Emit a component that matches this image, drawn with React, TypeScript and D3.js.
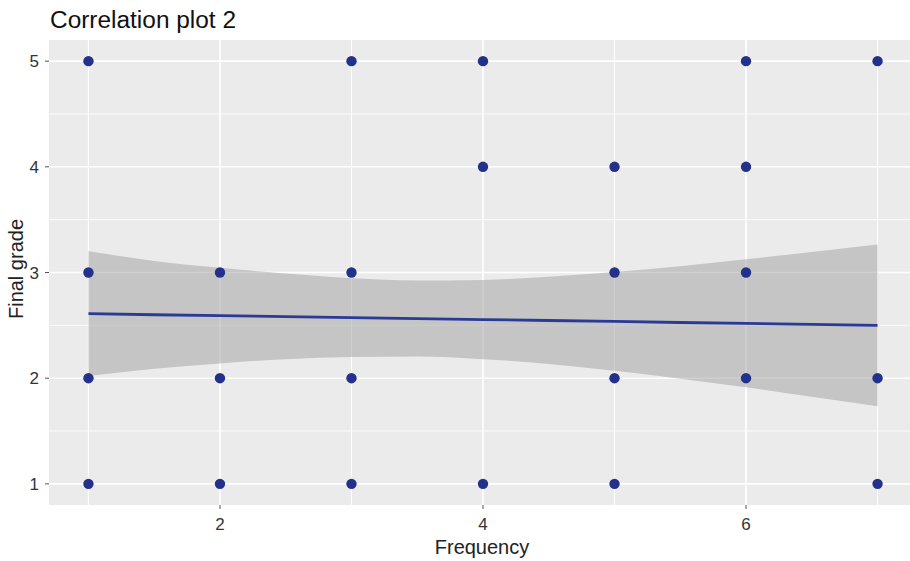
import * as d3 from 'd3';
import React from 'react';

// observed points (Frequency, Final grade)
const freq = [1, 3, 4, 6, 7, 4, 5, 6, 1, 2, 3, 5, 6, 1, 2, 3, 5, 6, 7, 1, 2, 3, 4, 5, 7];
const grade = [5, 5, 5, 5, 5, 4, 4, 4, 3, 3, 3, 3, 3, 2, 2, 2, 2, 2, 2, 1, 1, 1, 1, 1, 1];

// linear fit and its confidence band
const fitX = [1, 1.5, 2, 2.5, 3, 3.5, 4, 4.5, 5, 5.5, 6, 6.5, 7];
const fitY = [2.61, 2.6, 2.592, 2.583, 2.573, 2.564, 2.555, 2.546, 2.537, 2.527, 2.518, 2.509, 2.5];
const bandHi = [3.2, 3.11, 3.045, 2.99, 2.945, 2.925, 2.93, 2.96, 3.005, 3.06, 3.125, 3.195, 3.265];
const bandLo = [2.02, 2.09, 2.14, 2.18, 2.2, 2.205, 2.18, 2.135, 2.07, 1.995, 1.915, 1.825, 1.735];

const xTicks = [2, 4, 6];
const xMinor = [1, 3, 5, 7];
const yTicks = [1, 2, 3, 4, 5];
const yMinor = [1.5, 2.5, 3.5, 4.5];

export default function App() {
    const width = 910;
    const height = 561;
    const margin = { top: 40, right: -7, bottom: 56, left: 49 };

    // ggplot-style 5% expansion on each side
    const x = d3.scaleLinear()
        .domain([0.7, 7.3])
        .range([margin.left, width - margin.right]);
    const y = d3.scaleLinear()
        .domain([0.8, 5.2])
        .range([height - margin.bottom, margin.top]);

    const band = d3.area<number>()
        .x((d, i) => x(fitX[i]))
        .y0((d, i) => y(bandLo[i]))
        .y1((d, i) => y(bandHi[i]))
        .curve(d3.curveMonotoneX);

    const fitLine = d3.line<number>()
        .x((d, i) => x(fitX[i]))
        .y((d, i) => y(fitY[i]));

    const font = 'Liberation Sans, Arial, sans-serif';
    const panelW = x.range()[1] - x.range()[0];
    const panelH = y.range()[0] - y.range()[1];

    return (
        <svg width={width} height={height}
            style={{ position: 'absolute', left: 0, top: 0, background: 'white' }}>
            <text x={50} y={28} fontFamily={font} fontSize={23} fill="#111"
                textLength={186} lengthAdjust="spacingAndGlyphs">Correlation plot 2</text>

            <rect x={x.range()[0]} y={y.range()[1]} width={panelW} height={panelH} fill="#ebebeb" />

            {/* minor grid */}
            {yMinor.map(v => (
                <line key={'ym' + v} x1={x.range()[0]} x2={x.range()[1]} y1={y(v)} y2={y(v)}
                    stroke="white" strokeWidth={0.8} />
            ))}
            {xMinor.map(v => (
                <line key={'xm' + v} x1={x(v)} x2={x(v)} y1={y.range()[0]} y2={y.range()[1]}
                    stroke="white" strokeWidth={1.1} />
            ))}
            {/* major grid */}
            {yTicks.map(v => (
                <line key={'yg' + v} x1={x.range()[0]} x2={x.range()[1]} y1={y(v)} y2={y(v)}
                    stroke="white" strokeWidth={1.6} />
            ))}
            {xTicks.map(v => (
                <line key={'xg' + v} x1={x(v)} x2={x(v)} y1={y.range()[0]} y2={y.range()[1]}
                    stroke="white" strokeWidth={1.6} />
            ))}

            <path d={band(fitX) || ''} fill="#9a9a9a" fillOpacity={0.48} />

            {freq.map((f, i) => (
                <circle key={'p' + i} cx={x(f)} cy={y(grade[i])} r={5.2} fill="#24318a" />
            ))}

            <path d={fitLine(fitX) || ''} fill="none" stroke="#2a3a95" strokeWidth={2.8} />

            {/* axes */}
            {yTicks.map(v => (
                <g key={'yt' + v}>
                    <line x1={x.range()[0] - 4} x2={x.range()[0]} y1={y(v)} y2={y(v)} stroke="#555" strokeWidth={1} />
                    <text x={x.range()[0] - 10} y={y(v)} dy="0.36em" textAnchor="end"
                        fontFamily={font} fontSize={17} fill="#333">{v}</text>
                </g>
            ))}
            {xTicks.map(v => (
                <g key={'xt' + v}>
                    <line x1={x(v)} x2={x(v)} y1={y.range()[0]} y2={y.range()[0] + 4} stroke="#555" strokeWidth={1} />
                    <text x={x(v)} y={y.range()[0] + 25} textAnchor="middle"
                        fontFamily={font} fontSize={17} fill="#333">{v}</text>
                </g>
            ))}

            <text x={482} y={554} textAnchor="middle"
                fontFamily={font} fontSize={20} fill="#222">Frequency</text>
            <text transform={`translate(23, 269) rotate(-90)`}
                textAnchor="middle" fontFamily={font} fontSize={20} fill="#222">Final grade</text>
        </svg>
    );
}
